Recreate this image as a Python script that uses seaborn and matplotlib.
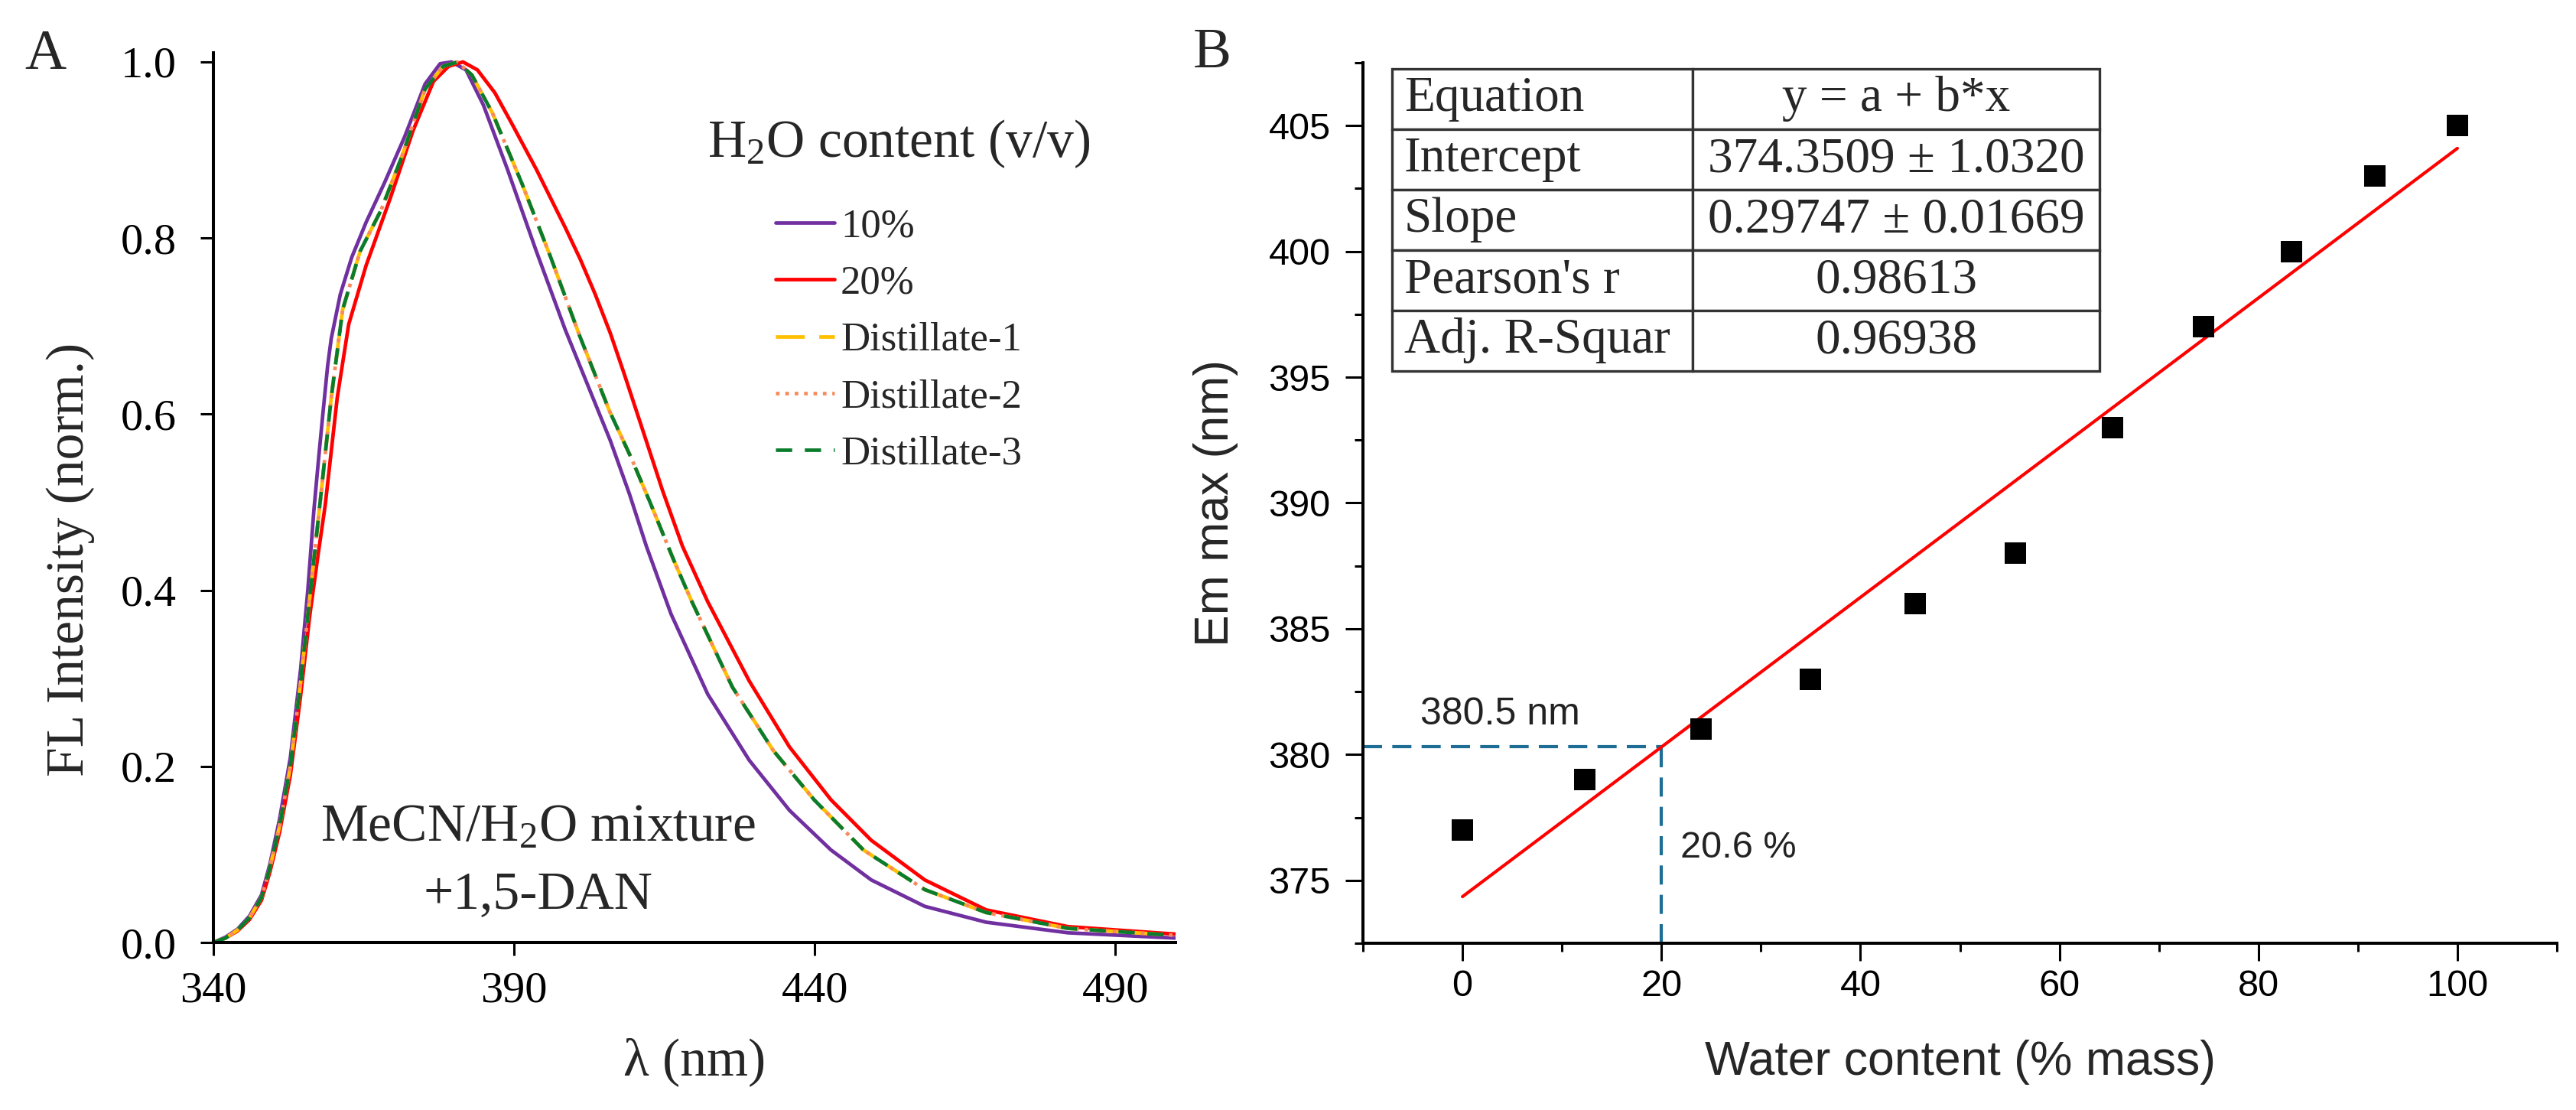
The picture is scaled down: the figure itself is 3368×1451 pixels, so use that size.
import matplotlib
matplotlib.use("Agg")
import numpy as np
import pandas as pd
import matplotlib.pyplot as plt
import seaborn as sns

# ---------------- Panel A data (normalized FL spectra) ----------------
wl_10 = [340, 342, 344, 346, 348, 349.4, 351, 352.8, 354.5, 355.7, 356.7, 357.5, 358.2, 359.0,
         359.6, 361.1, 363.0, 365.4, 368.4, 371.8, 375.2, 377.7, 379.6, 382.0, 384.9, 388.9,
         393.7, 398.5, 403.5, 406.0, 409.2, 412.0, 416.1, 422.2, 429.1, 435.8, 442.7, 449.4,
         458.3, 468.5, 482.1, 500]
fl_10 = [0.0, 0.006, 0.015, 0.03, 0.054, 0.089, 0.14, 0.21, 0.31, 0.40, 0.49, 0.55, 0.60, 0.655,
         0.686, 0.736, 0.778, 0.818, 0.862, 0.915, 0.975, 0.998, 1.0, 0.991, 0.951, 0.878,
         0.785, 0.696, 0.612, 0.57, 0.509, 0.45, 0.373, 0.282, 0.207, 0.150, 0.105, 0.071,
         0.041, 0.023, 0.011, 0.005]

wl_20 = [340, 342, 344, 346, 348, 349.4, 351, 352.8, 354.5, 356.0, 357.4, 358.6, 360.6, 362.5,
         365.4, 369.4, 373.2, 376.6, 379.1, 381.5, 383.9, 386.8, 389.7, 393.7, 398.5, 401.0,
         403.5, 406.0, 408.3, 411.0, 414.7, 418.0, 422.2, 429.1, 435.8, 442.7, 449.4, 458.3,
         468.5, 482.1, 500]
fl_20 = [0.0, 0.005, 0.013, 0.026, 0.048, 0.08, 0.125, 0.19, 0.28, 0.37, 0.44, 0.497, 0.619, 0.702,
         0.769, 0.845, 0.922, 0.978, 0.995, 1.0, 0.991, 0.965, 0.929, 0.878, 0.812, 0.776,
         0.736, 0.692, 0.646, 0.59, 0.513, 0.45, 0.387, 0.297, 0.222, 0.162, 0.116, 0.071,
         0.037, 0.018, 0.0095]

wl_dist = [340, 342, 344, 346, 348, 349.4, 351, 352.8, 354.5, 356.0, 357.7, 359.6, 361.5, 364.4,
           367.9, 371.3, 375.2, 378.2, 380.6, 383.0, 386.4, 391.3, 396.1, 400.9, 405.9, 409.5,
           412.6, 416.5, 419.5, 426.3, 433.1, 439.9, 448.1, 458.3, 468.5, 482.1, 500]
fl_dist1 = [0.0, 0.005, 0.014, 0.028, 0.051, 0.085, 0.132, 0.20, 0.295, 0.39, 0.497, 0.619, 0.719,
            0.785, 0.832, 0.892, 0.969, 0.995, 1.0, 0.985, 0.942, 0.862, 0.778, 0.689, 0.603,
            0.55, 0.50, 0.435, 0.388, 0.290, 0.218, 0.162, 0.105, 0.060, 0.034, 0.016, 0.008]
fl_dist2 = [0.0, 0.005, 0.014, 0.028, 0.051, 0.085, 0.132, 0.20, 0.295, 0.39, 0.497, 0.619, 0.719,
            0.785, 0.832, 0.892, 0.969, 0.995, 1.0, 0.985, 0.942, 0.862, 0.778, 0.689, 0.603,
            0.55, 0.50, 0.435, 0.388, 0.290, 0.218, 0.162, 0.105, 0.060, 0.034, 0.016, 0.008]
fl_dist3 = [0.0, 0.005, 0.014, 0.028, 0.051, 0.085, 0.132, 0.20, 0.295, 0.39, 0.497, 0.619, 0.719,
            0.785, 0.832, 0.892, 0.969, 0.995, 1.0, 0.985, 0.942, 0.862, 0.778, 0.689, 0.603,
            0.55, 0.50, 0.435, 0.388, 0.290, 0.218, 0.162, 0.105, 0.060, 0.034, 0.016, 0.008]

series_labels = ["10%", "20%", "Distillate-1", "Distillate-2", "Distillate-3"]
a_xticks = [340, 390, 440, 490]
a_yticks = [0.0, 0.2, 0.4, 0.6, 0.8, 1.0]

# ---------------- Panel B data ----------------
water_mass = [0, 12.3, 24.0, 35.0, 45.5, 55.6, 65.3, 74.5, 83.3, 91.7, 100]
em_max = [377, 379, 381, 383, 386, 388, 393, 397, 400, 403, 405]
fit_intercept = 374.3509
fit_slope = 0.29747
guide_x = 20.0
b_xticks = [0, 20, 40, 60, 80, 100]
b_yticks = [375, 380, 385, 390, 395, 400, 405]
table_rows = [["Equation", "y = a + b*x"],
              ["Intercept", "374.3509 \u00b1 1.0320"],
              ["Slope", "0.29747 \u00b1 0.01669"],
              ["Pearson's r", "0.98613"],
              ["Adj. R-Squar", "0.96938"]]

# ---------------- Style ----------------
sns.set_style("ticks")
plt.rcParams["font.family"] = ["Liberation Serif", "DejaVu Serif"]
plt.rcParams["mathtext.fontset"] = "custom"
plt.rcParams["mathtext.rm"] = "Liberation Serif"
plt.rcParams["mathtext.it"] = "Liberation Serif:italic"
plt.rcParams["mathtext.bf"] = "Liberation Serif:bold"

SERIF = ["Liberation Serif", "DejaVu Serif"]
SANS = ["Liberation Sans", "DejaVu Sans"]

fig = plt.figure(figsize=(33.68, 14.51), dpi=100)
axA = fig.add_axes([0.08284, 0.15093, 0.37352, 0.80152])
axB = fig.add_axes([0.52910, 0.15024, 0.46348, 0.79325])

# ---------------- Panel A ----------------
lw = 3.4
styles = [
    (wl_10, fl_10, "#7030A0", "-"),
    (wl_20, fl_20, "#FF0000", "-"),
    (wl_dist, fl_dist1, "#FFC000", (0, (8, 4))),
    (wl_dist, fl_dist2, "#F88A5C", (0, (1, 1.6))),
    (wl_dist, fl_dist3, "#0A7D2C", (0, (4.5, 3.5))),
]
for (xs, ys, col, ls), lab in zip(styles, series_labels):
    df = pd.DataFrame({"wl": xs, "fl": ys})
    sns.lineplot(data=df, x="wl", y="fl", ax=axA, color=col, linestyle=ls, lw=lw,
                 estimator=None, label=lab, legend=False)

axA.set_xlim(340, 500)
axA.set_ylim(0, 1.0104)
axA.set_xticks(a_xticks)
axA.set_xticklabels([str(t) for t in a_xticks])
axA.set_yticks(a_yticks)
axA.set_yticklabels([f"{t:.1f}" for t in a_yticks])
for s in ["top", "right"]:
    axA.spines[s].set_visible(False)
for s in ["left", "bottom"]:
    axA.spines[s].set_linewidth(2.9)
    axA.spines[s].set_color("black")
axA.tick_params(axis="both", direction="out", length=12, width=2.2, colors="black",
                labelsize=42)
axA.tick_params(axis="y", pad=23)
axA.tick_params(axis="x", pad=15)
for t in axA.get_xticklabels() + axA.get_yticklabels():
    t.set_fontfamily(SERIF)

axA.set_xlabel("\u03bb (nm)", fontsize=50, family=SERIF)
axA.set_ylabel("FL Intensity (norm.)", fontsize=50, family=SERIF)
axA.xaxis.set_label_coords(0.5, -0.134)
axA.xaxis.label.set_va("center")
axA.yaxis.set_label_coords(-0.1487, 0.43)
axA.yaxis.label.set_va("center")

handles = axA.get_lines()[:5]
leg = axA.legend(handles, series_labels, title="H$_2$O content (v/v)", frameon=False,
                 loc="upper center", bbox_to_anchor=(1175 / 3368, 1 - 128 / 1451),
                 bbox_transform=fig.transFigure, borderpad=0, handlelength=1.45,
                 handletextpad=0.16, labelspacing=0.5, prop={"family": SERIF, "size": 38})
leg.get_title().set_fontsize(50)
leg.get_title().set_fontfamily(SERIF)
leg._legend_box.sep = 36

axA.text(394, 0.115, "MeCN/H$_2$O mixture", fontsize=50, family=SERIF,
         ha="center", va="baseline")
axA.text(394, 0.039, "+1,5-DAN", fontsize=50, family=SERIF, ha="center", va="baseline")

fig.text(59 / 3368, 1 - 72 / 1451, "A", fontsize=54, family=SERIF, ha="center", va="center")
fig.text(1585 / 3368, 1 - 70 / 1451, "B", fontsize=54, family=SERIF, ha="center", va="center")

# ---------------- Panel B ----------------
sns.scatterplot(x=water_mass, y=em_max, ax=axB, marker="s", s=380, color="black",
                edgecolor="black", linewidth=0, zorder=3)
fit_x = np.array([min(water_mass), max(water_mass)])
fit_y = fit_intercept + fit_slope * fit_x
sns.lineplot(x=fit_x, y=fit_y, ax=axB, color="#FF0000", lw=3.0, estimator=None, zorder=2)

axB.set_xlim(-10, 110)
axB.set_ylim(372.5, 407.5)
guide_y = fit_intercept + fit_slope * guide_x
guide_col = "#1D6D94"
axB.hlines(guide_y, axB.get_xlim()[0], guide_x, colors=guide_col, lw=3.0,
           linestyles=(0, (6, 3.2)), zorder=1)
axB.vlines(guide_x, axB.get_ylim()[0], guide_y, colors=guide_col, lw=3.0,
           linestyles=(0, (6, 3.2)), zorder=1)

axB.set_xticks(b_xticks)
axB.set_xticklabels([str(t) for t in b_xticks])
axB.set_xticks([-10, 10, 30, 50, 70, 90, 110], minor=True)
axB.set_yticks(b_yticks)
axB.set_yticklabels([str(t) for t in b_yticks])
axB.set_yticks([372.5, 377.5, 382.5, 387.5, 392.5, 397.5, 402.5, 407.5], minor=True)
for s in ["top", "right"]:
    axB.spines[s].set_visible(False)
for s in ["left", "bottom"]:
    axB.spines[s].set_linewidth(2.9)
    axB.spines[s].set_color("black")
axB.tick_params(axis="both", which="major", direction="out", length=16.5, width=2.2,
                colors="black", labelsize=35)
axB.tick_params(axis="both", which="minor", direction="out", length=8, width=2.2,
                colors="black")
axB.tick_params(axis="y", which="major", pad=14)
axB.tick_params(axis="x", which="major", pad=8)
for t in axB.get_xticklabels() + axB.get_yticklabels():
    t.set_fontfamily(SANS)

axB.set_xlabel("Water content (% mass)", fontsize=45, family=SANS)
axB.set_ylabel("Em max (nm)", fontsize=45, family=SANS)
axB.xaxis.set_label_coords(0.5, -0.1347)
axB.xaxis.label.set_va("center")
axB.yaxis.set_label_coords(-0.1236, 0.5)
axB.yaxis.label.set_va("center")

axB.text(-4.2, 381.6, "380.5 nm", fontsize=36, family=SANS, color="#222222",
         ha="left", va="center")
axB.text(21.9, 376.3, "20.6 %", fontsize=35, family=SANS, color="#222222",
         ha="left", va="center")

tbl = axB.table(cellText=table_rows, cellLoc="center", colWidths=[0.425, 0.575],
                bbox=[0.0243, 0.6499, 0.5926, 0.3432])
tbl.auto_set_font_size(False)
tbl.set_fontsize(47)
for (r, c), cell in tbl.get_celld().items():
    cell.set_edgecolor("#333333")
    cell.set_linewidth(2.4)
    cell.set_facecolor("white")
    cell.get_text().set_fontfamily(SERIF)
    if c == 0:
        cell.PAD = 0.04
        cell.get_text().set_horizontalalignment("left")

fig.savefig("out.png", dpi=100, facecolor="white")
